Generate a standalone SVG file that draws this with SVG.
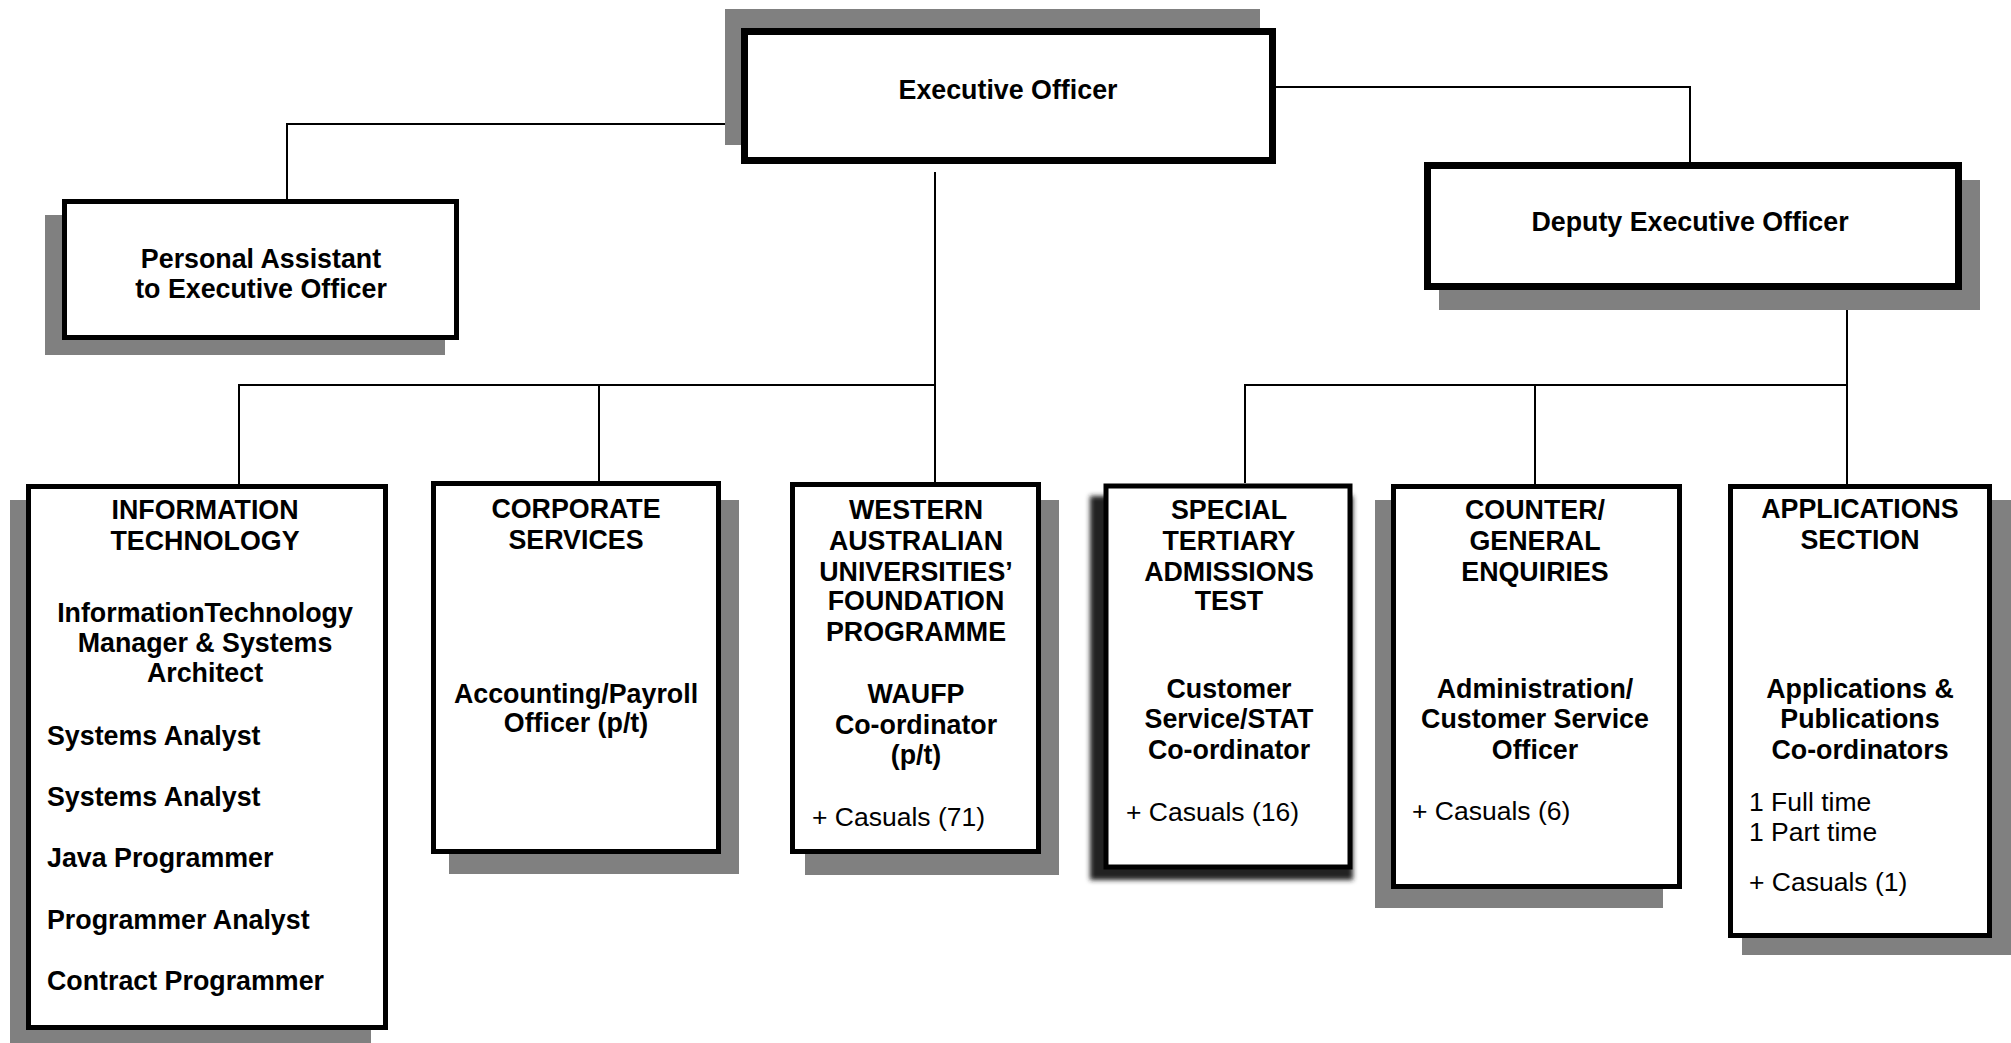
<svg xmlns="http://www.w3.org/2000/svg" width="2011" height="1043" viewBox="0 0 2011 1043">
<style>
.shadow{fill:#808080}
.box{fill:#fff;stroke:#000;stroke-width:5}
.thick{stroke-width:7}
.t{font-family:"Liberation Sans",Arial,sans-serif;font-size:26.8px;font-weight:bold;fill:#000;text-anchor:middle}
.l{text-anchor:start}
.r{font-family:"Liberation Sans",Arial,sans-serif;font-size:26.5px;font-weight:normal;fill:#000}
.c{fill:none;stroke:#000;stroke-width:2}
</style>
<defs>
<filter id="blur" x="-10%" y="-10%" width="120%" height="120%"><feGaussianBlur stdDeviation="2.5"/></filter>
</defs>
<g id="connectors">
<polyline class="c" points="741,124 287,124 287,199"/>
<polyline class="c" points="1276,87 1690,87 1690,162"/>
<line class="c" x1="935" y1="172" x2="935" y2="385"/>
<polyline class="c" points="239,484 239,385 935,385 935,484"/>
<line class="c" x1="599" y1="385" x2="599" y2="481"/>
<line class="c" x1="1847" y1="290" x2="1847" y2="484"/>
<polyline class="c" points="1245,483 1245,385 1847,385"/>
<line class="c" x1="1535" y1="385" x2="1535" y2="484"/>
</g>
<g id="exec">
<rect class="shadow" x="725" y="9" width="535" height="136"/>
<rect class="box thick" x="744.5" y="31.5" width="528" height="129"/>
<text class="t" x="1008" y="99">Executive Officer</text>
</g>
<g id="pa">
<rect class="shadow" x="45" y="215" width="400" height="140"/>
<rect class="box" x="64.5" y="201.5" width="392" height="136"/>
<text class="t" x="261" y="268">Personal Assistant</text>
<text class="t" x="261" y="298">to Executive Officer</text>
</g>
<g id="deputy">
<rect class="shadow" x="1439" y="180" width="541" height="130"/>
<rect class="box thick" x="1427.5" y="165.5" width="531" height="121"/>
<text class="t" x="1690" y="231">Deputy Executive Officer</text>
</g>
<g id="it">
<rect class="shadow" x="10" y="500" width="361" height="543"/>
<rect class="box" x="28.5" y="486.5" width="357" height="541"/>
<text class="t" x="205" y="519">INFORMATION</text>
<text class="t" x="205" y="550">TECHNOLOGY</text>
<text class="t" x="205" y="622">InformationTechnology</text>
<text class="t" x="205" y="652">Manager &amp; Systems</text>
<text class="t" x="205" y="682">Architect</text>
<text class="t l" x="47" y="745">Systems Analyst</text>
<text class="t l" x="47" y="806">Systems Analyst</text>
<text class="t l" x="47" y="867">Java Programmer</text>
<text class="t l" x="47" y="929">Programmer Analyst</text>
<text class="t l" x="47" y="990">Contract Programmer</text>
</g>
<g id="corporate">
<rect class="shadow" x="449" y="500" width="290" height="374"/>
<rect class="box" x="433.5" y="483.5" width="285" height="368"/>
<text class="t" x="576" y="518">CORPORATE</text>
<text class="t" x="576" y="549">SERVICES</text>
<text class="t" x="576" y="703">Accounting/Payroll</text>
<text class="t" x="576" y="732">Officer (p/t)</text>
</g>
<g id="waufp">
<rect class="shadow" x="805" y="500" width="254" height="375"/>
<rect class="box" x="792.5" y="484.5" width="246" height="367"/>
<text class="t" x="916" y="519">WESTERN</text>
<text class="t" x="916" y="550">AUSTRALIAN</text>
<text class="t" x="916" y="581">UNIVERSITIES’</text>
<text class="t" x="916" y="610">FOUNDATION</text>
<text class="t" x="916" y="641">PROGRAMME</text>
<text class="t" x="916" y="703">WAUFP</text>
<text class="t" x="916" y="734">Co-ordinator</text>
<text class="t" x="916" y="764">(p/t)</text>
<text class="r" x="812" y="826">+ Casuals (71)</text>
</g>
<g id="stat">
<rect x="1090" y="496" width="263" height="384" fill="#222" filter="url(#blur)"/>
<rect class="box" x="1106" y="486" width="244" height="381" stroke-width="6"/>
<text class="t" x="1229" y="519">SPECIAL</text>
<text class="t" x="1229" y="550">TERTIARY</text>
<text class="t" x="1229" y="581">ADMISSIONS</text>
<text class="t" x="1229" y="610">TEST</text>
<text class="t" x="1229" y="698">Customer</text>
<text class="t" x="1229" y="728">Service/STAT</text>
<text class="t" x="1229" y="759">Co-ordinator</text>
<text class="r" x="1126" y="821">+ Casuals (16)</text>
</g>
<g id="counter">
<rect class="shadow" x="1375" y="500" width="288" height="408"/>
<rect class="box" x="1393.5" y="486.5" width="286" height="400"/>
<text class="t" x="1535" y="519">COUNTER/</text>
<text class="t" x="1535" y="550">GENERAL</text>
<text class="t" x="1535" y="581">ENQUIRIES</text>
<text class="t" x="1535" y="698">Administration/</text>
<text class="t" x="1535" y="728">Customer Service</text>
<text class="t" x="1535" y="759">Officer</text>
<text class="r" x="1412" y="820">+ Casuals (6)</text>
</g>
<g id="applications">
<rect class="shadow" x="1742" y="500" width="269" height="455"/>
<rect class="box" x="1730.5" y="486.5" width="259" height="449"/>
<text class="t" x="1860" y="518">APPLICATIONS</text>
<text class="t" x="1860" y="549">SECTION</text>
<text class="t" x="1860" y="698">Applications &amp;</text>
<text class="t" x="1860" y="728">Publications</text>
<text class="t" x="1860" y="759">Co-ordinators</text>
<text class="r" x="1749" y="811">1 Full time</text>
<text class="r" x="1749" y="841">1 Part time</text>
<text class="r" x="1749" y="891">+ Casuals (1)</text>
</g>
</svg>
